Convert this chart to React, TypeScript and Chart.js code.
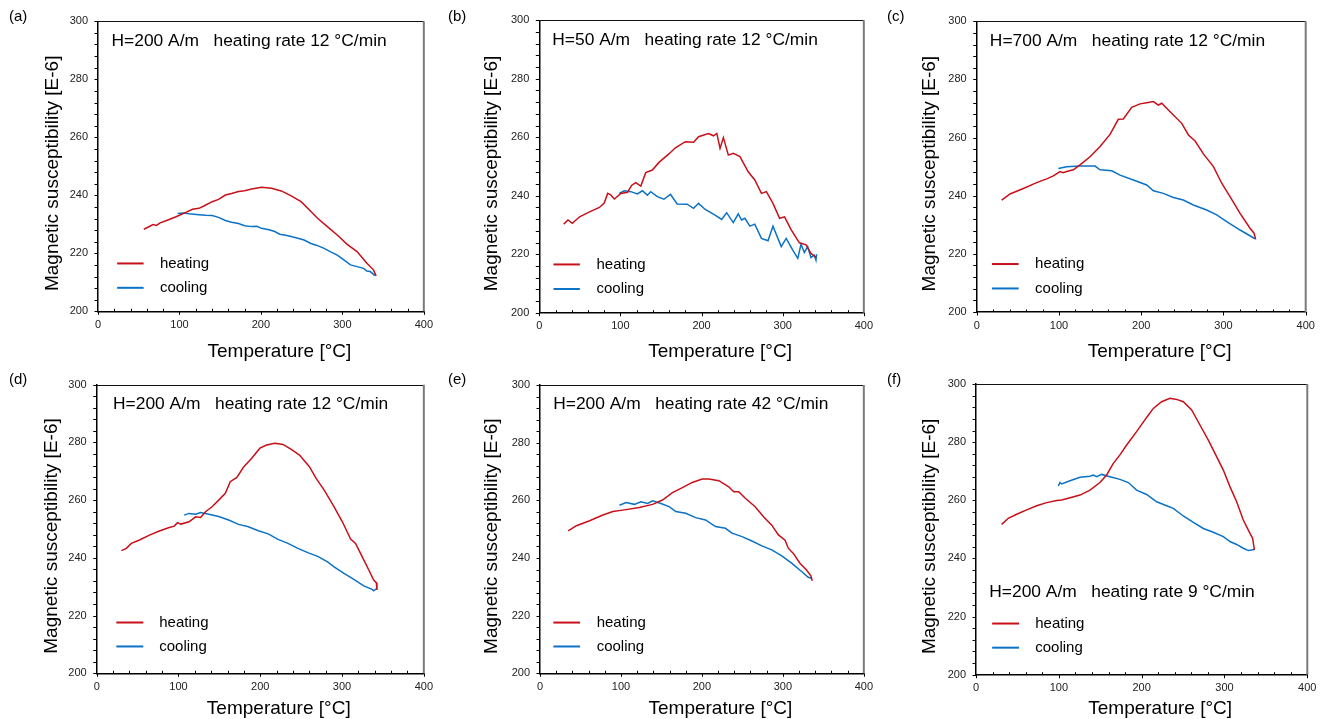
import React, { useEffect, useRef } from "react";
import { Chart, registerables } from "chart.js";
Chart.register(...registerables);

const FONT = '"Liberation Sans", Arial, Helvetica, sans-serif';
const RED = "#c8101a";
const BLUE = "#0b72c6";

// axis ranges / ticks
const X_MIN = 0, X_MAX = 400, X_MAJOR = 100, X_MINOR = 20;
const Y_MIN = 200, Y_MAX = 300, Y_MAJOR = 20, Y_MINOR = 4;
const X_TITLE = "Temperature [°C]";
const Y_TITLE = "Magnetic susceptibility [E-6]";
const SERIES_NAMES = ["heating", "cooling"];

// ---------- (a) ----------
const aHeatT = [56.2, 60, 67.5, 72, 75.6, 85, 95.8, 107.9, 116, 124, 130, 140.2, 148, 156.4, 164, 172.5, 180, 188.7, 200.8, 212.9, 225, 237.2, 249.3, 261.4, 269.5, 281.6, 293.7, 305.9, 318, 330.1, 338.2, 341.4];
const aHeatK = [228.3, 228.8, 229.9, 229.6, 230.4, 231.4, 232.6, 234.1, 235.2, 235.5, 236.3, 237.8, 238.6, 240.1, 240.6, 241.3, 241.6, 242.2, 242.8, 242.4, 241.5, 239.8, 237.8, 234.4, 232.1, 229.2, 226.3, 223.1, 220.6, 216.6, 214.3, 212.2];
const aCoolT = [97.8, 105, 112, 124, 132, 140.2, 148, 156.4, 164, 172.5, 180, 188.7, 195, 200.8, 210, 217, 223, 229, 237, 245.3, 253, 261.4, 268, 277.6, 285, 293.7, 301, 309.9, 318, 326.1, 330, 334.1, 340.2];
const aCoolK = [233.7, 233.9, 233.6, 233.3, 233.1, 233, 232.4, 231.3, 230.7, 230.3, 229.5, 229.2, 229.3, 228.6, 228.1, 227.5, 226.6, 226.3, 225.8, 225.2, 224.6, 223.4, 222.8, 221.7, 220.6, 219.4, 217.9, 216, 215.4, 214.8, 213.9, 213.7, 212.3];

// ---------- (b) ----------
const bHeatT = [30.1, 35.4, 40.7, 49.7, 61.9, 74.1, 80, 84.3, 88, 92.5, 100.6, 108.8, 114, 118.9, 125.1, 131.2, 139.3, 147.5, 159.7, 167.8, 180, 190.2, 196.3, 208.6, 214.7, 218.8, 222.8, 226.9, 233, 239.1, 247.3, 257.5, 265.6, 273.8, 279.9, 288, 296.2, 302.3, 310.5, 320.6, 328.8, 334.8, 341];
const bHeatK = [230.3, 231.7, 230.6, 232.8, 234.5, 236, 237.5, 240.8, 240.3, 238.9, 240.8, 241.2, 243.6, 244.5, 243.3, 247.9, 248.8, 251.4, 254.3, 256.4, 258.5, 258.3, 260.2, 261.3, 260.5, 261.3, 256.2, 259.9, 253.9, 254.5, 253.4, 248.2, 245.4, 240.8, 241.4, 237.4, 232.3, 232.8, 228.3, 223.9, 223.2, 220.3, 218.9];
const bCoolT = [98.6, 104.7, 112.8, 120.9, 127.1, 133.2, 137.3, 145.4, 153.6, 161.7, 169.9, 182.1, 190.2, 196.3, 204.5, 216.7, 224.8, 230.9, 239.1, 245.2, 249.3, 253.4, 259.5, 265.6, 273.8, 281.9, 288, 298.2, 304.3, 312.4, 318.6, 322.6, 326.7, 330.8, 334.8, 338.9, 341, 341.8];
const bCoolK = [240.8, 241.7, 241.4, 240.6, 241.7, 240.2, 241.4, 239.7, 238.8, 240.5, 237.2, 237.1, 235.7, 237.4, 235.3, 233.4, 231.9, 234.2, 230.8, 233.8, 231.7, 232.3, 229.6, 230.3, 225.4, 224.6, 229.6, 222.6, 225.4, 221.4, 218.6, 223.4, 220.6, 222.6, 218.9, 219.7, 218, 220];

// ---------- (c) ----------
const cHeatT = [30.4, 40.5, 56.7, 72.9, 85.1, 93.2, 101.3, 105, 109.4, 117.5, 125.6, 137.8, 150, 162.1, 172.2, 178.3, 188.4, 198.6, 206.7, 214.8, 220.9, 225, 235.1, 249.3, 257.4, 265.5, 275.6, 287.8, 297.9, 308, 320.2, 332.3, 337.2, 339.2];
const cHeatK = [238.5, 240.6, 242.5, 244.5, 245.8, 246.8, 248.3, 247.9, 248.3, 248.9, 250.6, 253.4, 256.9, 261.1, 266.3, 266.4, 270.4, 271.6, 272, 272.4, 271.2, 271.8, 268.9, 264.9, 260.9, 258.8, 254.4, 250, 244.3, 239.7, 233.9, 228.8, 227.1, 225];
const cCoolT = [99.3, 109.4, 125.6, 143.9, 150, 164.1, 174.3, 190.5, 206.7, 214.8, 226.9, 239.1, 251.2, 263.4, 279.6, 291.8, 303.9, 320.2, 338.4];
const cCoolK = [249.4, 250, 250.2, 250.2, 248.9, 248.6, 247.1, 245.4, 243.7, 241.7, 240.8, 239.4, 238.5, 236.8, 235.1, 233.4, 231.1, 228.2, 225.2];

// ---------- (d) ----------
const dHeatT = [30.2, 36.3, 42.3, 52.4, 64.5, 76.6, 88.7, 94.8, 98.8, 102.8, 112.9, 121, 127, 133.1, 141.1, 149.2, 157.3, 163.3, 171.4, 179.4, 189.5, 199.6, 207.7, 217.7, 227.8, 237.9, 248, 260.1, 268.1, 278.2, 290.3, 300.4, 310.5, 316.5, 324.6, 332.7, 338.7, 341.9, 342.7];
const dHeatK = [242.5, 243.3, 245, 246.2, 247.9, 249.3, 250.5, 251, 252.2, 251.7, 252.5, 254.2, 254, 256, 257.7, 260, 262.4, 266.4, 267.9, 271.4, 274.5, 278, 279.1, 279.7, 279.3, 277.6, 275.6, 271.6, 267.6, 263.5, 257.7, 252.5, 246.5, 245, 240.4, 235.8, 232.3, 231.4, 228.9];
const dCoolT = [106.9, 112.9, 121, 127, 137.1, 149.2, 161.3, 173.4, 185.5, 197.6, 209.7, 221.8, 233.9, 246, 258.1, 270.2, 282.3, 290.3, 302.4, 312.5, 326.6, 336.7, 338.7, 342.7];
const dCoolK = [254.8, 255.4, 255.1, 255.7, 255.1, 254.3, 253.1, 251.6, 250.8, 249.4, 248.3, 246.4, 245, 243.3, 241.8, 240.5, 238.6, 236.9, 234.6, 232.9, 230.3, 229.1, 228.6, 229.4];

// ---------- (e) ----------
const eHeatT = [34.8, 45, 61.3, 77.7, 90, 102.2, 122.7, 139.1, 151.3, 163.6, 175.9, 188.1, 200.4, 208.6, 220.9, 233.1, 239.3, 245.4, 253.6, 265.8, 276.1, 286.3, 294.5, 302.7, 306.7, 312.9, 321.1, 329.2, 334.6, 336.2];
const eHeatK = [249.4, 251.2, 252.9, 254.9, 256.1, 256.6, 257.5, 258.6, 260.1, 262.7, 264.4, 266.2, 267.4, 267.4, 266.8, 264.7, 263, 263, 260.7, 257.8, 254.3, 251.4, 248, 246.2, 243.4, 241.6, 238.2, 235.8, 233.8, 232.1];
const eCoolT = [98.2, 106.3, 116.6, 124.7, 132.9, 139.1, 149.3, 159.5, 167.7, 180, 192.2, 204.5, 216.8, 229, 237.2, 249.5, 261.8, 274, 286.3, 298.6, 310.8, 323.1, 331.3, 336.2];
const eCoolK = [258.3, 259.2, 258.6, 259.5, 258.9, 259.8, 258.9, 257.8, 256.1, 255.5, 254, 253.2, 250.9, 250.3, 248.6, 247.4, 245.9, 244.2, 242.8, 240.7, 238.2, 235.3, 233.3, 232.9];

// ---------- (f) ----------
const fHeatT = [31, 39, 49.1, 61.2, 73.2, 85.3, 97.4, 103.4, 113.5, 125.6, 137.6, 149.7, 157.7, 165.8, 173.8, 181.9, 193.9, 206, 214.1, 224.1, 234.2, 242.3, 250.3, 260.4, 270.4, 280.5, 290.5, 298.6, 306.6, 314.7, 322.7, 330.8, 334, 335.6, 336];
const fHeatK = [251.7, 253.8, 255.2, 256.7, 258.1, 259.2, 259.9, 260.1, 260.9, 261.8, 263.5, 266.1, 268.7, 272.7, 275.6, 279, 283.6, 288.5, 291.6, 293.9, 295.1, 294.7, 293.9, 291.1, 285.9, 280.7, 275, 270.4, 264.7, 259.5, 253.2, 248.6, 246.9, 244, 242.9];
const fCoolT = [99.4, 101.4, 103.4, 113.5, 125.6, 137.6, 141.6, 145.7, 151.7, 161.8, 173.8, 183.9, 193.9, 206, 218.1, 230.2, 238.2, 250.3, 262.4, 274.5, 286.5, 298.6, 306.6, 314.7, 322.7, 328.8, 332.8, 336];
const fCoolK = [264.9, 266.1, 265.6, 266.7, 267.9, 268.3, 268.7, 268.1, 268.9, 268.1, 267.2, 266.1, 263.5, 262, 259.5, 258.1, 257.2, 254.6, 252.4, 250.3, 249, 247.5, 245.8, 244.8, 243.5, 242.7, 242.9, 243.1];

const panelLabels = ["(a)", "(b)", "(c)", "(d)", "(e)", "(f)"];
const panelNotes = [
  "H=200 A/m   heating rate 12 °C/min",
  "H=50 A/m   heating rate 12 °C/min",
  "H=700 A/m   heating rate 12 °C/min",
  "H=200 A/m   heating rate 12 °C/min",
  "H=200 A/m   heating rate 42 °C/min",
  "H=200 A/m   heating rate 9 °C/min",
];

type Layout = {
  box: [number, number, number, number]; // x0, y0, w, h (page)
  area: [number, number, number, number]; // left, top, right, bottom (page)
  label: [number, number];
  yTitleX: number;
  xTitleY: number;
  note: [number, number]; // data coords
  legX: [number, number, number];
  legY: [number, number];
};

const layouts: Layout[] = [
  { box: [0, 0, 440, 366], area: [98, 21.3, 427.7, 311.3], label: [9, 17], yTitleX: 53, xTitleY: 352, note: [16.6, 293.3], legX: [23.5, 56, 76], legY: [216.5, 208.1] },
  { box: [440, 0, 440, 366], area: [539.3, 20.3, 866.7, 312.7], label: [448, 17], yTitleX: 492, xTitleY: 352, note: [16, 293.3], legX: [17.5, 50, 70.5], legY: [216.5, 208.1] },
  { box: [880, 0, 445, 366], area: [976.7, 21.3, 1305.7, 312], label: [887, 17], yTitleX: 930, xTitleY: 352, note: [16, 293.3], legX: [18.5, 51, 71], legY: [216.5, 208.1] },
  { box: [0, 360, 440, 363], area: [96.7, 384.7, 427.3, 673.3], label: [9, 380], yTitleX: 52, xTitleY: 709, note: [20, 293.3], legX: [24, 57, 76.5], legY: [217.6, 209.3] },
  { box: [440, 360, 440, 363], area: [540, 385, 866, 673.3], label: [448, 380], yTitleX: 492, xTitleY: 709, note: [16.3, 293.3], legX: [16.5, 49.5, 70], legY: [217.6, 209.3] },
  { box: [880, 360, 445, 363], area: [976, 384, 1307.3, 674.7], label: [887, 380], yTitleX: 930, xTitleY: 709, note: [16, 228.3], legX: [19.5, 52, 71.5], legY: [217.6, 209.3] },
];

const heatingT = [aHeatT, bHeatT, cHeatT, dHeatT, eHeatT, fHeatT];
const heatingK = [aHeatK, bHeatK, cHeatK, dHeatK, eHeatK, fHeatK];
const coolingT = [aCoolT, bCoolT, cCoolT, dCoolT, eCoolT, fCoolT];
const coolingK = [aCoolK, bCoolK, cCoolK, dCoolK, eCoolK, fCoolK];

const pts = (t: number[], k: number[]) => t.map((x, i) => ({ x, y: k[i] }));

function makePlugin(i: number) {
  const L = layouts[i];
  return {
    id: "frameDeco" + i,
    afterDraw(chart: any) {
      const { ctx, chartArea, scales } = chart;
      const { left, top, right, bottom } = chartArea;
      const xs = scales.x, ys = scales.y;
      const x0 = L.box[0], y0 = L.box[1];
      const seg = (a: number, b: number, c: number, d: number) => {
        ctx.beginPath(); ctx.moveTo(a, b); ctx.lineTo(c, d); ctx.stroke();
      };
      ctx.save();
      // frame top/right
      ctx.strokeStyle = "#111"; ctx.lineWidth = 1;
      seg(left, Math.round(top) + 0.5, right, Math.round(top) + 0.5);
      ctx.strokeStyle = "#7a7a7a"; ctx.lineWidth = 2;
      seg(right, top, right, bottom);
      // ticks
      ctx.strokeStyle = "#000"; ctx.lineWidth = 1;
      for (let v = Y_MIN; v <= Y_MAX; v += Y_MINOR) {
        const y = Math.round(ys.getPixelForValue(v)) + 0.5;
        seg(left - 3.5, y, left, y);
      }
      for (let v = X_MIN; v <= X_MAX; v += X_MINOR) {
        const x = Math.round(xs.getPixelForValue(v)) + 0.5;
        if (v % X_MAJOR === 0) seg(x, bottom, x, bottom + 3.5);
        else seg(x, bottom - 2.5, x, bottom);
      }
      // axis titles
      ctx.fillStyle = "#000";
      ctx.font = `19px ${FONT}`;
      ctx.textAlign = "center"; ctx.textBaseline = "middle";
      ctx.fillText(X_TITLE, (left + right) / 2 + 18.5, L.xTitleY - y0);
      ctx.save();
      ctx.translate(L.yTitleX - x0, (top + bottom) / 2 + 7);
      ctx.rotate(-Math.PI / 2);
      ctx.fillText(Y_TITLE, 0, 0);
      ctx.restore();
      // note
      ctx.textAlign = "left";
      ctx.font = `17.4px ${FONT}`;
      ctx.fillText(panelNotes[i], xs.getPixelForValue(L.note[0]), ys.getPixelForValue(L.note[1]));
      // legend
      const colors = [RED, BLUE];
      ctx.font = `15px ${FONT}`;
      for (let s = 0; s < 2; s++) {
        const y = ys.getPixelForValue(L.legY[s]);
        ctx.strokeStyle = colors[s]; ctx.lineWidth = 2;
        seg(xs.getPixelForValue(L.legX[0]), y, xs.getPixelForValue(L.legX[1]), y);
        ctx.fillStyle = "#000";
        ctx.fillText(SERIES_NAMES[s], xs.getPixelForValue(L.legX[2]), y);
      }
      // panel label
      ctx.font = `15px ${FONT}`;
      ctx.fillText(panelLabels[i], L.label[0] - x0, L.label[1] - y0);
      ctx.restore();
    },
  };
}

function Panel({ i }: { i: number }) {
  const ref = useRef<HTMLCanvasElement>(null);
  const L = layouts[i];
  const [x0, y0, w, h] = L.box;
  const [al, at, ar, ab] = L.area;
  useEffect(() => {
    const chart = new Chart(ref.current!, {
      type: "line",
      data: {
        datasets: [
          { label: SERIES_NAMES[0], data: pts(heatingT[i], heatingK[i]), borderColor: RED, borderWidth: 1.5, pointRadius: 0, tension: 0, fill: false },
          { label: SERIES_NAMES[1], data: pts(coolingT[i], coolingK[i]), borderColor: BLUE, borderWidth: 1.5, pointRadius: 0, tension: 0, fill: false },
        ],
      },
      options: {
        animation: false,
        responsive: false,
        maintainAspectRatio: false,
        devicePixelRatio: 1,
        layout: { padding: { left: 0, top: at - y0, right: x0 + w - ar, bottom: 0 } },
        plugins: { legend: { display: false }, tooltip: { enabled: false } },
        scales: {
          x: {
            type: "linear", min: X_MIN, max: X_MAX,
            ticks: { stepSize: X_MAJOR, padding: 7, color: "#222", font: { family: FONT, size: 11 }, maxRotation: 0 },
            grid: { display: false, drawTicks: false },
            border: { display: true, color: "#000", width: 1.5 },
            afterFit: (s: any) => { s.height = y0 + h - ab; },
          },
          y: {
            type: "linear", min: Y_MIN, max: Y_MAX,
            ticks: { stepSize: Y_MAJOR, padding: 10, color: "#222", font: { family: FONT, size: 11 } },
            grid: { display: false, drawTicks: false },
            border: { display: true, color: "#000", width: 1.5 },
            afterFit: (s: any) => { s.width = al - x0; },
          },
        },
      } as any,
      plugins: [makePlugin(i)],
    });
    return () => chart.destroy();
  }, []);
  return (
    <canvas
      ref={ref}
      width={w}
      height={h}
      style={{ position: "absolute", left: x0, top: y0, width: w, height: h }}
    />
  );
}

export default function App() {
  return (
    <div style={{ position: "fixed", left: 0, top: 0, width: 1325, height: 719, background: "#fff", overflow: "hidden" }}>
      {layouts.map((_, i) => (
        <Panel key={i} i={i} />
      ))}
    </div>
  );
}
